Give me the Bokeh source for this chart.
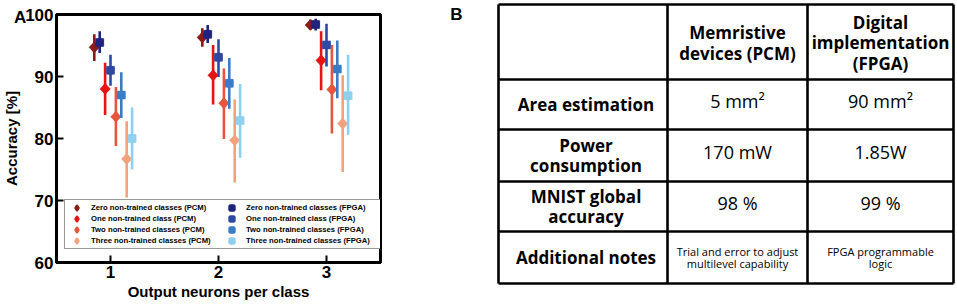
import numpy as np
from bokeh.plotting import figure
from bokeh.layouts import row
from bokeh.models import Range1d, FixedTicker, Legend, LegendItem
from bokeh.core.properties import value
from bokeh.embed import file_html
from bokeh.resources import INLINE

# ---------------- Panel A data ----------------
neurons = [1, 2, 3]
series_names = [
    "Zero non-trained classes (PCM)",
    "One non-trained class (PCM)",
    "Two non-trained classes (PCM)",
    "Three non-trained classes (PCM)",
    "Zero non-trained classes (FPGA)",
    "One non-trained class (FPGA)",
    "Two non-trained classes (FPGA)",
    "Three non-trained classes (FPGA)",
]
series_colors = ["#8b1a1a", "#e81313", "#e8553c", "#f4a27e",
                 "#1f237e", "#2f48a2", "#3b7cc6", "#8fd0f0"]
series_offsets = [-0.15, -0.05, 0.05, 0.15, -0.10, 0.0, 0.10, 0.20]
series_markers = ["diamond"] * 4 + ["square"] * 4

pcm0_mean = [94.7, 96.3, 98.3]
pcm0_lo = [92.5, 94.8, 97.6]
pcm0_hi = [96.8, 97.8, 99.2]
pcm1_mean = [88.0, 90.2, 92.6]
pcm1_lo = [83.8, 85.5, 87.8]
pcm1_hi = [92.2, 95.1, 97.3]
pcm2_mean = [83.5, 85.7, 87.9]
pcm2_lo = [78.8, 79.9, 80.8]
pcm2_hi = [88.3, 91.3, 95.1]
pcm3_mean = [76.7, 79.7, 82.4]
pcm3_lo = [70.5, 72.9, 74.6]
pcm3_hi = [82.8, 86.3, 90.2]
fpga0_mean = [95.5, 96.8, 98.4]
fpga0_lo = [93.8, 95.4, 97.4]
fpga0_hi = [97.3, 98.3, 99.3]
fpga1_mean = [91.0, 93.1, 95.1]
fpga1_lo = [88.5, 89.9, 91.6]
fpga1_hi = [93.5, 96.0, 98.5]
fpga2_mean = [87.0, 88.9, 91.2]
fpga2_lo = [83.3, 84.8, 86.5]
fpga2_hi = [90.7, 93.0, 95.8]
fpga3_mean = [80.0, 82.9, 86.9]
fpga3_lo = [75.0, 76.9, 80.6]
fpga3_hi = [85.0, 88.8, 93.5]

means = [pcm0_mean, pcm1_mean, pcm2_mean, pcm3_mean, fpga0_mean, fpga1_mean, fpga2_mean, fpga3_mean]
lows = [pcm0_lo, pcm1_lo, pcm2_lo, pcm3_lo, fpga0_lo, fpga1_lo, fpga2_lo, fpga3_lo]
highs = [pcm0_hi, pcm1_hi, pcm2_hi, pcm3_hi, fpga0_hi, fpga1_hi, fpga2_hi, fpga3_hi]

y_ticks = [60, 70, 80, 90, 100]

# ---------------- Panel B data ----------------
table_header = ["", "Memristive\ndevices (PCM)", "Digital\nimplementation\n(FPGA)"]
row_labels = ["Area estimation", "Power\nconsumption", "MNIST global\naccuracy", "Additional notes"]
pcm_values = ["5 mm\u00b2", "170 mW", "98 %", "Trial and error to adjust\nmultilevel capability"]
fpga_values = ["90 mm\u00b2", "1.85W", "99 %", "FPGA programmable\nlogic"]

FONT = "Liberation Sans"
TFONT = "Open Sans"

HAS_FA = "frame_align" in figure.properties() if hasattr(figure, "properties") else False

# ---------------- Panel A ----------------
pA = figure(width=440, height=304, output_backend="svg", toolbar_location=None,
            x_range=Range1d(0.5, 3.5), y_range=Range1d(60, 100),
            min_border_left=53, min_border_right=60, min_border_top=14, min_border_bottom=42)
if HAS_FA:
    pA.frame_align = False
pA.grid.visible = False
pA.outline_line_color = "black"
pA.outline_line_width = 3
pA.background_fill_color = "white"
pA.border_fill_color = "white"

for ax in (pA.xaxis[0], pA.yaxis[0]):
    ax.axis_line_width = 3
    ax.axis_line_color = "black"
    ax.major_tick_in = 7
    ax.major_tick_out = 0
    ax.major_tick_line_width = 2
    ax.minor_tick_line_color = None
    ax.major_label_text_font = FONT
    ax.major_label_text_font_style = "bold"
    ax.major_label_text_font_size = "17px"
    ax.major_label_text_color = "black"
    ax.axis_label_text_font = FONT
    ax.axis_label_text_font_style = "bold"
    ax.axis_label_text_font_size = "15px"
    ax.axis_label_text_color = "black"

pA.xaxis.ticker = FixedTicker(ticks=neurons)
pA.yaxis.ticker = FixedTicker(ticks=y_ticks)
pA.xaxis.axis_label = "Output neurons per class"
pA.yaxis.axis_label = "Accuracy [%]"
pA.xaxis.major_label_standoff = 3
pA.xaxis.axis_label_standoff = 2
pA.yaxis.major_label_standoff = 3
pA.yaxis.axis_label_standoff = 2

items = []
for name, col, off, mk, m, lo, hi in zip(series_names, series_colors, series_offsets,
                                         series_markers, means, lows, highs):
    xs = [n + off for n in neurons]
    pA.segment(x0=xs, y0=lo, x1=xs, y1=hi, line_color=col, line_width=2.6)
    if mk == "diamond":
        # legend swatch renderer, fully covered by the rotated square drawn on top
        leg_r = pA.scatter(x=xs, y=m, marker="diamond", size=8, fill_color=col,
                           line_color=col, line_width=2.5, line_join="round")
        pA.scatter(x=xs, y=m, marker="square", angle=np.pi / 4, size=7.5,
                   fill_color=col, line_color=col, line_width=0.5)
    else:
        leg_r = pA.scatter(x=xs, y=m, marker="square", size=5, fill_color=col,
                           line_color=col, line_width=3)
        pA.scatter(x=xs, y=m, marker="square", size=8,
                   fill_color=col, line_color=col, line_width=0.5)
    items.append(LegendItem(label=name, renderers=[leg_r]))

legend = Legend(items=items, ncols=2, location=(8, 13),
                label_text_font=FONT, label_text_font_style="bold",
                label_text_font_size="7.7px", label_text_color="black",
                glyph_height=11, glyph_width=11, label_height=11, label_standoff=9,
                spacing=0, padding={"left": 6, "right": 3, "top": 2, "bottom": 2},
                margin=0, label_width=135,
                border_line_color="#333333", border_line_width=1,
                background_fill_alpha=1)
pA.add_layout(legend, "center")

# panel letter A, drawn at overlay level so it is not clipped to the frame
pA.text(x=[0.5 - 43 / 109], y=[100 - 3 / 6.2], text=["A"], text_align="left",
        text_baseline="alphabetic", text_font=value(FONT), text_font_style="bold",
        text_font_size="17px", text_color="black", level="overlay")

# ---------------- Panel B ----------------
if HAS_FA:
    pB = figure(width=517, height=304, output_backend="svg", toolbar_location=None,
                x_range=Range1d(440, 957), y_range=Range1d(304, 0),
                min_border_left=0, min_border_right=0, min_border_top=0, min_border_bottom=0)
    pB.frame_align = False
else:
    pB = figure(width=517, height=304, output_backend="svg", toolbar_location=None,
                x_range=Range1d(440, 957), y_range=Range1d(262, 14),
                min_border_left=0, min_border_right=0, min_border_top=14, min_border_bottom=42)
pB.axis.visible = False
pB.grid.visible = False
pB.outline_line_color = None
pB.background_fill_color = "white"
pB.border_fill_color = "white"

col_edges = [498, 667, 807, 953]
row_edges = [4, 79, 129, 181, 231, 283]

pB.segment(x0=[col_edges[0]] * len(row_edges), y0=row_edges,
           x1=[col_edges[-1]] * len(row_edges), y1=row_edges,
           line_color="black", line_width=2.6, level="overlay")
pB.segment(x0=col_edges, y0=[row_edges[0]] * len(col_edges),
           x1=col_edges, y1=[row_edges[-1]] * len(col_edges),
           line_color="black", line_width=2.6, level="overlay")

ccx = [(col_edges[i] + col_edges[i + 1]) / 2 for i in range(3)]
rcy = [(row_edges[i] + row_edges[i + 1]) / 2 for i in range(5)]


def cell_text(xs, ys, txts, size, bold, lh):
    pB.text(x=xs, y=ys, text=txts, text_align="center", text_baseline="middle",
            text_font=value(TFONT), text_font_style="bold" if bold else "normal",
            text_font_size=f"{size}px", text_line_height=lh, text_color="black",
            level="overlay")


# header
cell_text(ccx[1:], [rcy[0] + 1] * 2, table_header[1:], 17, True, 0.88)
# row labels
cell_text([ccx[0] + 3] * 4, rcy[1:], row_labels, 17, True, 0.88)
# values
cell_text([ccx[1]] * 3, [y - 4 for y in rcy[1:4]], pcm_values[:3], 18, False, 1.0)
cell_text([ccx[2]] * 3, [y - 4 for y in rcy[1:4]], fpga_values[:3], 18, False, 1.0)
# notes
cell_text(ccx[1:], [rcy[4]] * 2, [pcm_values[3], fpga_values[3]], 11, False, 0.85)

pB.text(x=[456], y=[14], text=["B"], text_align="center", text_baseline="middle",
        text_font=value(FONT), text_font_style="bold", text_font_size="17px",
        text_color="black", level="overlay")

layout = row(pA, pB)
open("out.html", "w").write(file_html(layout, INLINE))
